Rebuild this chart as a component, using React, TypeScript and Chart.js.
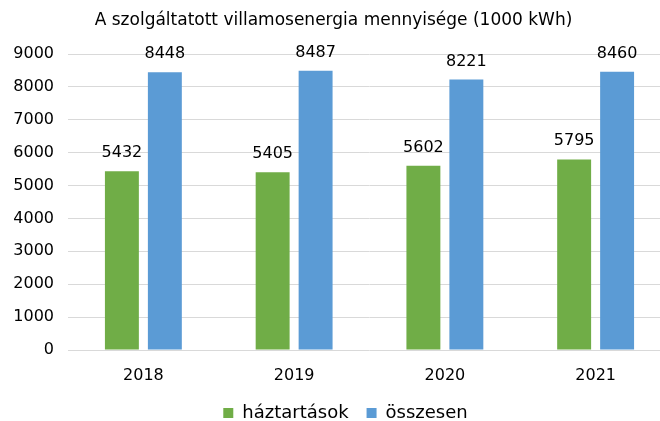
import React, { useEffect, useRef } from "react";
import { Chart, registerables } from "chart.js";

Chart.register(...registerables);

const categories = ["2018", "2019", "2020", "2021"];
const haztartasok = [5432, 5405, 5602, 5795];
const osszesen = [8448, 8487, 8221, 8460];
const seriesNames = ["háztartások", "összesen"];
const titleText = "A szolgáltatott villamosenergia mennyisége (1000 kWh)";

const FONT = "'DejaVu Sans', Verdana, sans-serif";

const valueLabels = {
  id: "valueLabels",
  afterDatasetsDraw(chart: any) {
    const ctx = chart.ctx;
    ctx.save();
    ctx.font = `16px ${FONT}`;
    ctx.fillStyle = "#000";
    ctx.textAlign = "center";
    ctx.textBaseline = "alphabetic";
    chart.data.datasets.forEach((ds: any, i: number) => {
      const meta = chart.getDatasetMeta(i);
      meta.data.forEach((bar: any, j: number) => {
        ctx.fillText(String(ds.data[j]), bar.x, bar.y - 14);
      });
    });
    ctx.restore();
  },
};

// nudge the title and legend boxes horizontally to match the reference centring
const boxShift = {
  id: "boxShift",
  afterLayout(chart: any) {
    if (chart.legend) {
      chart.legend.left += 6;
      chart.legend.right += 6;
    }
    if (chart.titleBlock) {
      chart.titleBlock.left -= 6;
      chart.titleBlock.right -= 6;
    }
  },
};

export default function App() {
  const ref = useRef<HTMLCanvasElement>(null);
  useEffect(() => {
    document.body.style.margin = "0";
    const chart = new Chart(ref.current!, {
      type: "bar",
      data: {
        labels: categories,
        datasets: [
          { label: seriesNames[0], data: haztartasok, backgroundColor: "#70ad47" },
          { label: seriesNames[1], data: osszesen, backgroundColor: "#5b9bd5" },
        ],
      },
      options: {
        responsive: false,
        animation: false,
        devicePixelRatio: 1,
        layout: { padding: { left: 8, right: 1, top: 0, bottom: 0 } },
        datasets: { bar: { categoryPercentage: 0.57, barPercentage: 0.79 } },
        plugins: {
          title: {
            display: true,
            text: titleText,
            color: "#000",
            font: { family: FONT, size: 17, weight: "normal" },
            padding: { top: 10.5, bottom: 23.1 },
          },
          legend: {
            position: "bottom",
            labels: {
              color: "#000",
              font: { family: FONT, size: 18 },
              boxWidth: 10,
              boxHeight: 10,
              padding: 18,
            },
          },
          tooltip: { enabled: false },
        },
        scales: {
          x: {
            afterFit: (s: any) => { s.height = 36; },
            grid: { display: false, drawTicks: false },
            border: { display: false },
            ticks: { color: "#000", font: { family: FONT, size: 16 }, padding: 16 },
          },
          y: {
            min: 0,
            max: 9000,
            afterFit: (s: any) => { s.width = 60; },
            grid: { color: "#d9d9d9", lineWidth: 1, drawTicks: false },
            border: { display: false },
            ticks: {
              stepSize: 1000,
              color: "#000",
              font: { family: FONT, size: 16 },
              padding: 14,
              callback: (v: any) => String(v),
            },
          },
        },
      },
      plugins: [valueLabels, boxShift],
    });
    return () => chart.destroy();
  }, []);
  return (
    <div style={{ width: 660, height: 421, overflow: "hidden", background: "#fff" }}>
      <canvas ref={ref} width={672} height={432} style={{ display: "block" }} />
    </div>
  );
}
